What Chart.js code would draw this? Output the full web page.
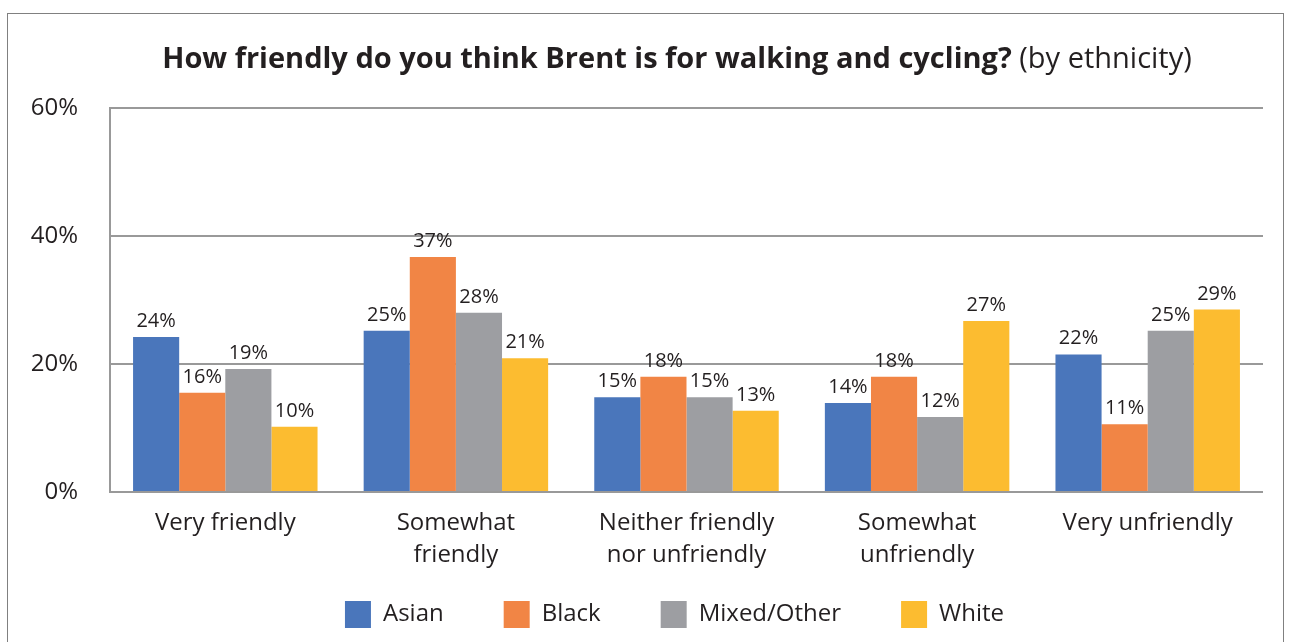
<!DOCTYPE html>
<html>
<head>
<meta charset="utf-8">
<script src="https://cdn.jsdelivr.net/npm/chart.js@4/dist/chart.umd.min.js"></script>
<style>
  html, body { margin: 0; padding: 0; background: #fff; }
  #wrap { position: relative; width: 1293px; height: 642px; }
  #frame {
    position: absolute; left: 7px; top: 13px; width: 1277px; height: 700px;
    border: 1.5px solid #808080; box-sizing: border-box;
  }
  canvas { position: absolute; left: 0; top: 0; }
</style>
</head>
<body>
<div id="wrap">
  <div id="frame"></div>
  <canvas id="chart" width="1293" height="642"></canvas>
</div>
<script>
const categories = [
  "Very friendly",
  ["Somewhat", "friendly"],
  ["Neither friendly", "nor unfriendly"],
  ["Somewhat", "unfriendly"],
  "Very unfriendly",
];
const seriesNames = ["Asian", "Black", "Mixed/Other", "White"];
const asian = [24.2, 25.2, 14.8, 13.9, 21.5];
const black = [15.5, 36.7, 18.0, 18.0, 10.6];
const mixed = [19.2, 28.0, 14.8, 11.7, 25.2];
const white = [10.2, 20.9, 12.7, 26.7, 28.5];
const yTicks = [0, 20, 40, 60];

const colors = ["#4a76bb", "#f18545", "#9d9ea2", "#fcbc30"];
const FONT = "'Open Sans', Lato, sans-serif";
const textColor = "#231f20";

const titleBold = "How friendly do you think Brent is for walking and cycling?";
const titleNormal = " (by ethnicity)";

// title has a bold part and a normal part, so it is drawn by hand
const titlePlugin = {
  id: "mixedTitle",
  afterDraw(chart) {
    const ctx = chart.ctx;
    ctx.save();
    ctx.fillStyle = textColor;
    ctx.textBaseline = "alphabetic";
    ctx.font = "bold 29px " + FONT;
    const w1 = ctx.measureText(titleBold).width;
    ctx.font = "29px " + FONT;
    const w2 = ctx.measureText(titleNormal).width;
    const x = 677 - (w1 + w2) / 2;
    ctx.font = "bold 29px " + FONT;
    ctx.fillText(titleBold, x, 68);
    ctx.font = "29px " + FONT;
    ctx.fillText(titleNormal, x + w1, 68);
    ctx.restore();
  }
};

// move the legend a little: the original centres it off the plot
const legendSpot = {
  id: "legendSpot",
  afterLayout(chart) {
    chart.legend.left = 86;
    chart.legend.top = 541;
  }
};

const valueLabels = {
  id: "valueLabels",
  afterDatasetsDraw(chart) {
    const ctx = chart.ctx;
    ctx.save();
    ctx.font = "20px " + FONT;
    ctx.fillStyle = textColor;
    ctx.textAlign = "center";
    ctx.textBaseline = "alphabetic";
    chart.data.datasets.forEach((ds, i) => {
      chart.getDatasetMeta(i).data.forEach((bar, j) => {
        ctx.fillText(Math.round(ds.data[j]) + "%", bar.x, bar.y - 10);
      });
    });
    ctx.restore();
  }
};

const data = {
  labels: categories,
  datasets: [asian, black, mixed, white].map((vals, i) => ({
    label: seriesNames[i],
    data: vals,
    backgroundColor: colors[i],
    borderWidth: 0,
    categoryPercentage: 0.8,
    barPercentage: 1.0,
  })),
};

const config = {
  type: "bar",
  data: data,
  options: {
    responsive: false,
    animation: false,
    layout: { padding: { left: 28, right: 30, top: 108, bottom: 0 } },
    plugins: {
      title: { display: false },
      tooltip: { enabled: false },
      legend: {
        position: "bottom",
        maxHeight: 58,
        labels: {
          boxWidth: 26,
          boxHeight: 27,
          padding: 60,
          color: textColor,
          font: { family: FONT, size: 24 },
        },
      },
    },
    scales: {
      x: {
        grid: { display: false },
        border: { display: false },
        ticks: {
          color: textColor,
          padding: 7,
          maxRotation: 0,
          autoSkip: false,
          font: { family: FONT, size: 24, lineHeight: 1.33 },
        },
        afterFit: (s) => { s.height = 92; },
      },
      y: {
        min: 0,
        max: 60,
        afterBuildTicks: (s) => { s.ticks = yTicks.map((v) => ({ value: v })); },
        grid: { color: "#999999", lineWidth: 2, drawTicks: false },
        border: { display: true, color: "#999999", width: 2 },
        ticks: {
          color: textColor,
          padding: 32,
          font: { family: FONT, size: 24 },
          callback: (v) => v + "%",
        },
        afterFit: (s) => { s.width = 82; },
      },
    },
  },
  plugins: [titlePlugin, legendSpot, valueLabels],
};

new Chart(document.getElementById("chart"), config);
</script>
</body>
</html>
